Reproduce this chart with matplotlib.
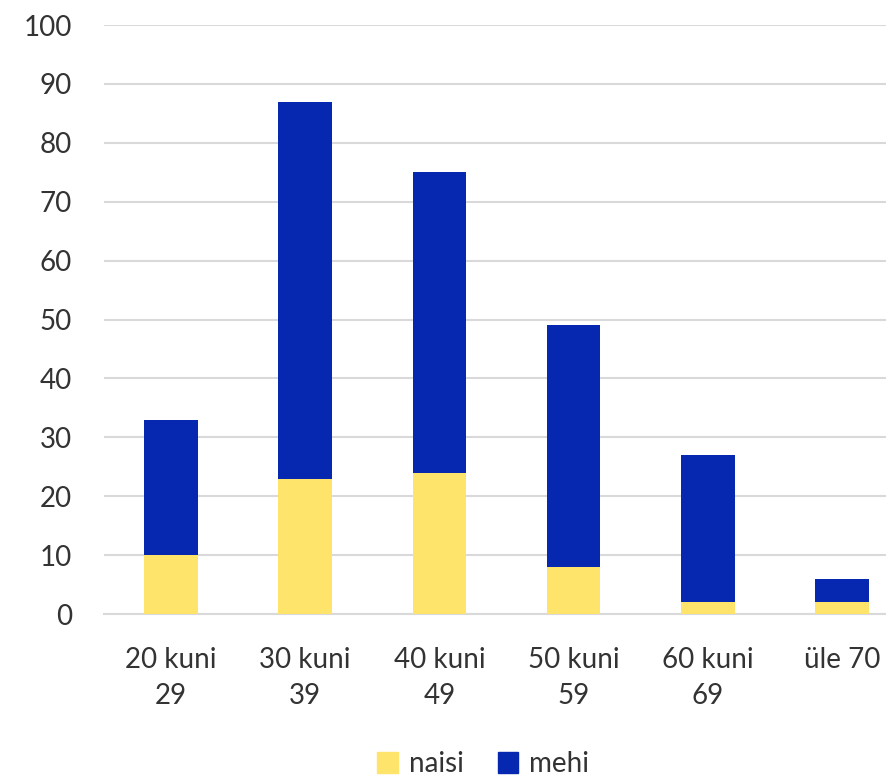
import matplotlib.pyplot as plt
from matplotlib.patches import Patch

categories = ["20 kuni\n29", "30 kuni\n39", "40 kuni\n49", "50 kuni\n59", "60 kuni\n69", "üle 70"]
naisi = [10, 23, 24, 8, 2, 2]
mehi = [23, 64, 51, 41, 25, 4]

yellow = "#FFE46B"
blue = "#0628B0"
text_col = "#333333"

plt.rcParams["font.family"] = ["Lato", "DejaVu Sans"]

fig = plt.figure(figsize=(8.87, 7.83), dpi=100)
ax = fig.add_axes([0.117, 0.2158, 0.908, 0.7522])

x = range(len(categories))
ax.bar(x, naisi, width=0.4, color=yellow, zorder=3)
ax.bar(x, mehi, width=0.4, bottom=naisi, color=blue, zorder=3)

ax.set_xlim(-0.5, len(categories) - 0.5)
ax.set_ylim(0, 100)
ax.set_yticks(range(0, 101, 10))
ax.grid(axis="y", color="#D9D9D9", linewidth=1.5, zorder=0)
ax.set_axisbelow(True)
for s in ["top", "right", "left"]:
    ax.spines[s].set_visible(False)
ax.spines["bottom"].set_color("#D9D9D9")
ax.spines["bottom"].set_linewidth(1.5)

ax.set_xticks(list(x))
ax.set_xticklabels(categories, fontsize=20, color=text_col, linespacing=1.45)
ax.tick_params(axis="x", length=0, pad=24)
ax.tick_params(axis="y", length=0, pad=23, labelsize=20, labelcolor=text_col)

handles = [Patch(color=yellow, label="naisi"), Patch(color=blue, label="mehi")]
fig.legend(handles=handles, loc="center", bbox_to_anchor=(0.545, 0.024), ncol=2,
           frameon=False, fontsize=20, handlelength=0.75, handleheight=0.75,
           handletextpad=0.4, columnspacing=1.2, labelcolor=text_col,
           borderpad=0.1)

fig.savefig("out.png", dpi=100)
